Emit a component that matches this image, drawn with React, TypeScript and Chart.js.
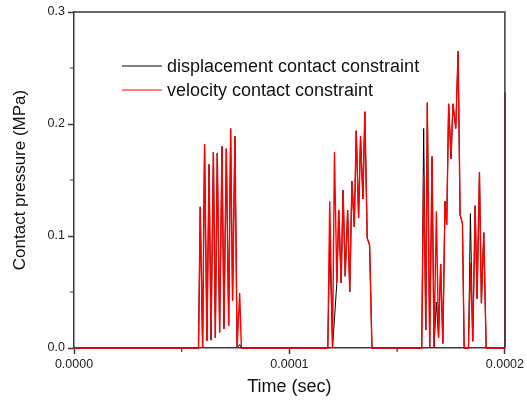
import React, { useEffect, useRef } from 'react';
import { Chart, registerables } from 'chart.js';

Chart.register(...registerables);

// time in microseconds
const timeUs = [
  0, 57.8, 58.6, 59.7, 60.6, 61.7, 62.7, 63.6, 64.7, 65.6, 66.5, 67.6, 68.7, 69.6, 70.7, 71.8, 72.7, 73.6, 74.7, 75.7, 76.1, 76.9, 77.7,
  117.8, 118.7, 120.0, 120.9, 122.0, 122.9, 124.0, 124.9, 125.9, 127.0, 128.0, 129.0, 130.1, 131.0, 132.1, 133.0, 134.1, 135.0, 136.1, 137.2, 138.3,
  161.4, 162.3, 163.3, 164.0, 165.1, 166.2, 167.1, 168.2, 169.2, 170.2, 171.2, 172.2, 173.0, 173.9, 175.0, 175.9, 177.2, 178.3, 179.2, 180.3, 181.1,
  183.1, 184.0, 185.1, 186.2, 187.1, 188.2, 189.1, 190.2, 191.3, 199.9, 200.0,
];

const velocityValues = [
  0, 0, 0.126, 0, 0.182, 0.0065, 0.164, 0.007, 0.175, 0.009, 0.174, 0.014, 0.18, 0.017, 0.178, 0.02, 0.196, 0.042, 0.189, 0, 0, 0.049, 0,
  0, 0.131, 0, 0.175, 0.058, 0.123, 0.058, 0.141, 0.064, 0.123, 0.05, 0.149, 0.108, 0.194, 0.116, 0.189, 0.133, 0.211, 0.098, 0.092, 0,
  0, 0.154, 0.016, 0.219, 0, 0.171, 0, 0.122, 0.009, 0.075, 0.004, 0.131, 0.11, 0.218, 0.169, 0.218, 0.196, 0.265, 0.119, 0.111, 0,
  0, 0.076, 0.006, 0.127, 0.044, 0.157, 0.04, 0.103, 0, 0, 0.228,
];

const displacementValues = [
  0, 0, 0.126, 0, 0.182, 0.0065, 0.164, 0.007, 0.175, 0.009, 0.174, 0.014, 0.18, 0.017, 0.178, 0.02, 0.196, 0.042, 0.189, 0, 0, 0.003, 0,
  0, 0.096, 0, 0.026, 0.058, 0.123, 0.058, 0.141, 0.064, 0.123, 0.05, 0.149, 0.108, 0.194, 0.116, 0.189, 0.133, 0.211, 0.098, 0.092, 0,
  0, 0.196, 0.016, 0.219, 0, 0.171, 0, 0.041, 0.009, 0.075, 0.004, 0.131, 0.11, 0.218, 0.169, 0.218, 0.196, 0.265, 0.119, 0.111, 0,
  0, 0.12, 0.006, 0.127, 0.044, 0.157, 0.04, 0.103, 0, 0, 0.228,
];

const seriesLabels = ['displacement contact constraint', 'velocity contact constraint'];
const xMinorTicks = [0.00005, 0.00015];
const yMinorTicks = [0.05, 0.15, 0.25];
const xTitle = 'Time (sec)';
const yTitle = 'Contact pressure (MPa)';

const FONT = '"Liberation Sans", Arial, sans-serif';
const AXIS = '#3a3a3a';

const framePlugin = {
  id: 'frameAndLegend',
  afterDraw(chart: any) {
    const { ctx, chartArea } = chart;
    const { left, right, top, bottom } = chartArea;
    ctx.save();
    ctx.strokeStyle = AXIS;
    ctx.lineWidth = 1.5;
    ctx.beginPath();
    ctx.moveTo(left, top);
    ctx.lineTo(right, top);
    ctx.lineTo(right, bottom);
    ctx.stroke();
    const xs = chart.scales.x;
    const ys = chart.scales.y;
    ctx.lineWidth = 1.2;
    ctx.beginPath();
    xMinorTicks.forEach((v) => {
      const px = xs.getPixelForValue(v);
      ctx.moveTo(px, bottom);
      ctx.lineTo(px, bottom + 4);
    });
    yMinorTicks.forEach((v) => {
      const py = ys.getPixelForValue(v);
      ctx.moveTo(left, py);
      ctx.lineTo(left - 4, py);
    });
    ctx.stroke();
    const colors = ['#000000', '#ff0000'];
    ctx.font = `18px ${FONT}`;
    ctx.textBaseline = 'middle';
    ctx.textAlign = 'left';
    seriesLabels.forEach((lab, i) => {
      const y = top + 54 + i * 24;
      ctx.strokeStyle = colors[i];
      ctx.lineWidth = 1;
      ctx.beginPath();
      ctx.moveTo(left + 48, y);
      ctx.lineTo(left + 88, y);
      ctx.stroke();
      ctx.fillStyle = '#111';
      ctx.fillText(lab, left + 93, y + 1);
    });
    ctx.restore();
  },
};

export default function App() {
  const ref = useRef<HTMLCanvasElement | null>(null);
  useEffect(() => {
    if (!ref.current) return;
    const toPts = (vals: number[]) => timeUs.map((t, i) => ({ x: t * 1e-6, y: vals[i] }));
    const chart = new Chart(ref.current, {
      type: 'line',
      data: {
        datasets: [
          {
            label: seriesLabels[0],
            data: toPts(displacementValues),
            borderColor: '#000000',
            borderWidth: 1,
            pointRadius: 0,
            tension: 0,
            clip: 4,
            order: 2,
          },
          {
            label: seriesLabels[1],
            data: toPts(velocityValues),
            borderColor: '#ff0000',
            borderWidth: 1.4,
            pointRadius: 0,
            tension: 0,
            clip: 4,
            order: 1,
          },
        ],
      },
      options: {
        responsive: false,
        animation: false,
        events: [],
        layout: { padding: { top: 12, right: 22, left: 0, bottom: 0 } },
        plugins: { legend: { display: false }, tooltip: { enabled: false } },
        scales: {
          x: {
            type: 'linear',
            min: 0,
            max: 0.0002,
            afterFit: (s: any) => { s.height = 56; },
            border: { display: true, color: AXIS, width: 1.5 },
            grid: { display: true, drawOnChartArea: false, drawTicks: true, tickLength: 6, tickColor: AXIS, tickWidth: 1.5 },
            ticks: {
              stepSize: 0.0001,
              padding: 3,
              color: '#222',
              font: { family: FONT, size: 12.5 },
              maxRotation: 0,
              callback: (v: any) => Number(v).toFixed(4),
            },
            title: {
              display: true,
              text: xTitle,
              color: '#111',
              font: { family: FONT, size: 18 },
              padding: { top: 0, bottom: 6 },
            },
          },
          y: {
            type: 'linear',
            min: 0,
            max: 0.3,
            afterFit: (s: any) => { s.width = 74; },
            border: { display: true, color: AXIS, width: 1.5 },
            grid: { display: true, drawOnChartArea: false, drawTicks: true, tickLength: 6, tickColor: AXIS, tickWidth: 1.5 },
            ticks: {
              stepSize: 0.1,
              padding: 3,
              color: '#222',
              font: { family: FONT, size: 12.5 },
              callback: (v: any) => Number(v).toFixed(1),
            },
            title: {
              display: true,
              text: yTitle,
              color: '#111',
              font: { family: FONT, size: 17 },
              padding: { top: 10, bottom: 0 },
            },
          },
        },
      },
      plugins: [framePlugin],
    });
    return () => chart.destroy();
  }, []);
  return (
    <div style={{ position: 'absolute', left: 0, top: 0, width: 527, height: 404, background: '#fff' }}>
      <canvas ref={ref} width={527} height={404} />
    </div>
  );
}
